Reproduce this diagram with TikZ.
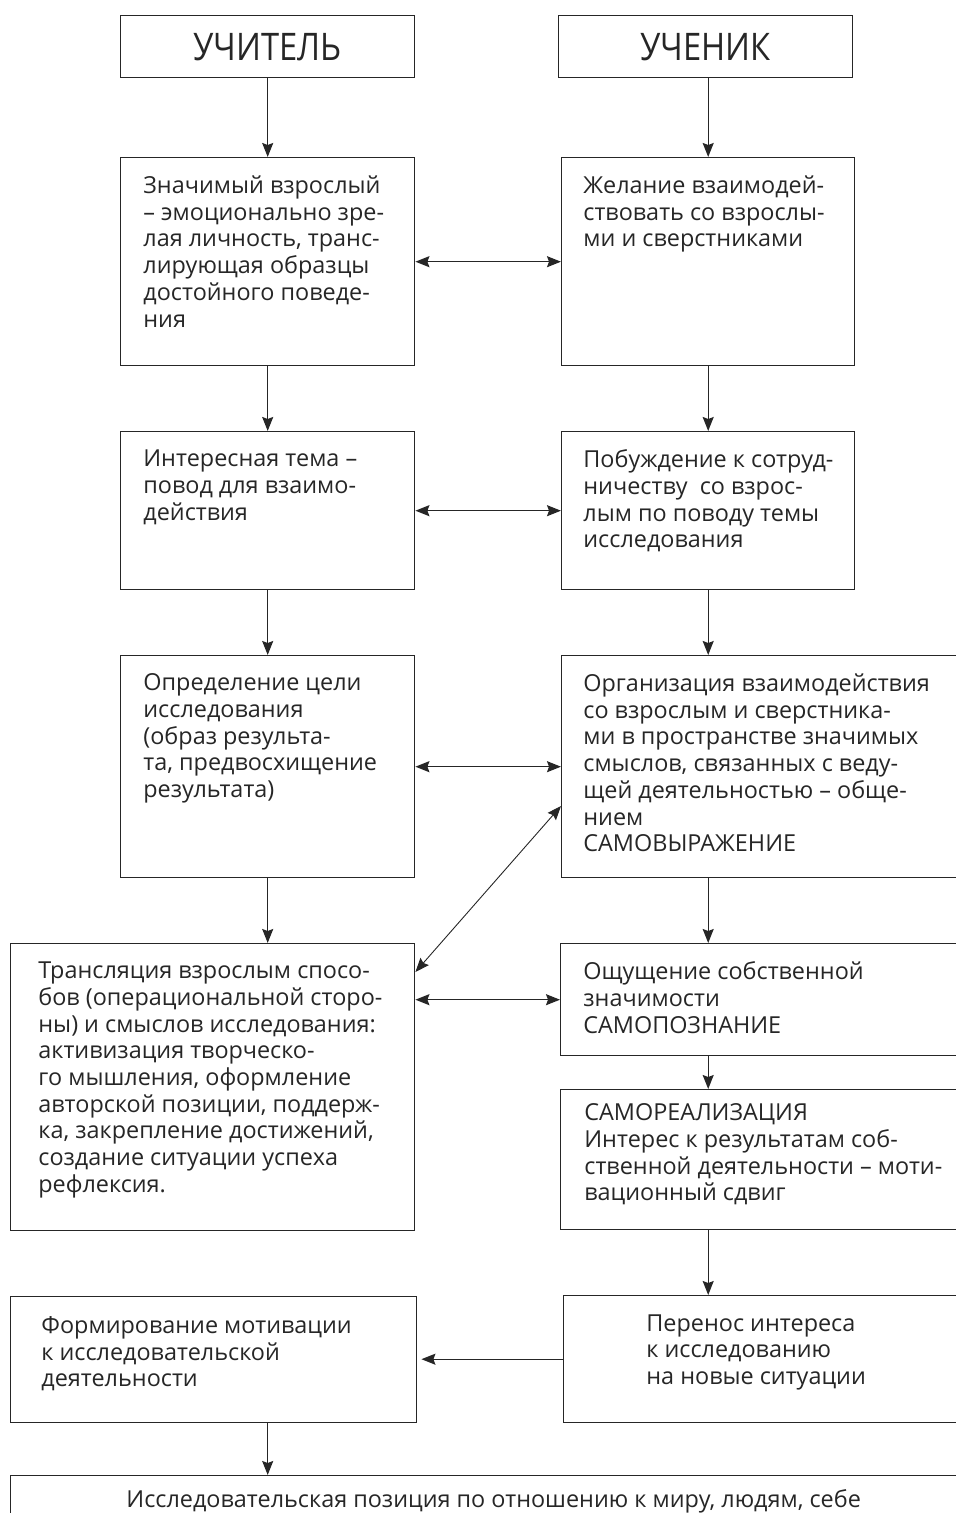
\documentclass[tikz,border=0pt]{standalone}
\usepackage{fontspec}
\setmainfont{Open Sans}
\newfontfamily\headfont[FakeStretch=0.86]{Open Sans}
\usetikzlibrary{arrows.meta, positioning, calc}

\begin{document}
\begin{tikzpicture}[x=0.5pt, y=-0.5pt,
		>={Stealth[length=7pt, width=5.5pt, inset=1pt]},
		box/.style={draw=black!85, line width=0.7pt, rectangle, inner sep=0pt, anchor=north west},
		head/.style={font=\headfont\fontsize{19}{22}\selectfont, text=black!85},
		txt/.style={anchor=north west, inner sep=0pt, align=left, text=black!85,
			font=\fontsize{11.7}{13.35}\selectfont, execute at begin node=\strut},
		arr/.style={draw=black!85, line width=0.7pt}]
		\useasboundingbox (0,0) rectangle (956,1513);
		\clip (0,0) rectangle (956,1513);
		
		% Headers
		\node[box, head, minimum width=147pt, minimum height=31pt] (teach) at (120,15) {УЧИТЕЛЬ};
		\node[box, head, minimum width=147pt, minimum height=31pt] (pupil) at (558,15) {УЧЕНИК};
		
		% Left column (teacher)
		\node[box, minimum width=147pt, minimum height=104pt] (t1) at (120,157) {};
		\node[box, minimum width=147pt, minimum height=79pt] (t2) at (120,431) {};
		\node[box, minimum width=147pt, minimum height=111pt] (t3) at (120,655) {};
		\node[box, minimum width=202pt, minimum height=143.5pt] (t4) at (10,943) {};
		\node[box, minimum width=203pt, minimum height=63pt] (t6) at (10,1296) {};
		
		% Right column (pupil)
		\node[box, minimum width=146.5pt, minimum height=104pt] (s1) at (561,157) {};
		\node[box, minimum width=146.5pt, minimum height=79pt] (s2) at (561,431) {};
		\node[box, minimum width=220pt, minimum height=111pt] (s3) at (561,655) {};
		\node[box, minimum width=220pt, minimum height=56pt] (s4) at (560,943) {};
		\node[box, minimum width=220pt, minimum height=70pt] (s5) at (560,1089) {};
		\node[box, minimum width=220pt, minimum height=63.5pt] (s6) at (563,1295) {};
		
		% Bottom
		\node[box, minimum width=483pt, minimum height=35pt] (bot) at (10,1475) {};
		
		% Texts
		\node[txt] (t1txt) at ([shift={(23,18.5)}]t1.north west)
		{Значимый взрослый\\– эмоционально зре-\\лая личность, транс-\\лирующая образцы\\достойного поведе-\\ния};
		\node[txt] (t2txt) at ([shift={(23,18.5)}]t2.north west)
		{Интересная тема –\\повод для взаимо-\\действия};
		\node[txt] (t3txt) at ([shift={(23,18.5)}]t3.north west)
		{Определение цели\\исследования\\(образ результа-\\та, предвосхищение\\результата)};
		\node[txt] (t4txt) at ([shift={(28,18.5)}]t4.north west)
		{Трансляция взрослым спосо-\\бов (операциональной сторо-\\ны) и смыслов исследования:\\активизация творческо-\\го мышления, оформление\\авторской позиции, поддерж-\\ка, закрепление достижений,\\создание ситуации успеха\\рефлексия.};
		\node[txt] (t6txt) at ([shift={(31,20)}]t6.north west)
		{Формирование мотивации\\к исследовательской\\деятельности};
		
		\node[txt] (s1txt) at ([shift={(22,18.5)}]s1.north west)
		{Желание взаимодей-\\ствовать со взрослы-\\ми и сверстниками};
		\node[txt] (s2txt) at ([shift={(22,18.5)}]s2.north west)
		{Побуждение к сотруд-\\ничеству\ \ со взрос-\\лым по поводу темы\\исследования};
		\node[txt] (s3txt) at ([shift={(22,18.5)}]s3.north west)
		{Организация взаимодействия\\со взрослым и сверстника-\\ми в пространстве значимых\\смыслов, связанных с веду-\\щей деятельностью – обще-\\нием\\САМОВЫРАЖЕНИЕ};
		\node[txt] (s4txt) at ([shift={(23,18.5)}]s4.north west)
		{Ощущение собственной\\значимости\\САМОПОЗНАНИЕ};
		\node[txt] (s5txt) at ([shift={(24,14.5)}]s5.north west)
		{САМОРЕАЛИЗАЦИЯ\\Интерес к результатам соб-\\ственной деятельности – моти-\\вационный сдвиг};
		\node[txt] (s6txt) at ([shift={(83,19)}]s6.north west)
		{Перенос интереса\\к исследованию\\на новые ситуации};
		
		\node[txt, anchor=north] (bottxt) at ([shift={(0,13.5)}]bot.north)
		{Исследовательская позиция по отношению к миру, людям, себе};
		
		% Vertical arrows
		\draw[arr, ->] (teach.south) -- (t1.north);
		\draw[arr, ->] (s1.north |- pupil.south) -- (s1.north);
		\draw[arr, ->] (t1.south) -- (t2.north);
		\draw[arr, ->] (s1.south) -- (s2.north);
		\draw[arr, ->] (t2.south) -- (t3.north);
		\draw[arr, ->] (s2.south) -- (s2.south |- s3.north);
		\draw[arr, ->] (t3.south) -- (t3.south |- t4.north);
		\draw[arr, ->] (s2.south |- s3.south) -- (s2.south |- s4.north);
		\draw[arr, ->] (s2.south |- s4.south) -- (s2.south |- s5.north);
		\draw[arr, ->] (s2.south |- s5.south) -- (s2.south |- s6.north);
		\draw[arr, ->] (t3.south |- t6.south) -- (t3.south |- bot.north);
		
		% Horizontal arrows
		\draw[arr, <->] (t1.east) -- (s1.west);
		\draw[arr, <->] (t2.east) -- (s2.west);
		\draw[arr, <->] (t3.east) -- (t3.east -| s3.west);
		\draw[arr, <->] (s4.west -| t4.east) -- (s4.west);
		\draw[arr, ->, shorten >=2pt] (s6.west) -- (s6.west -| t6.east);
		
		% Diagonal link
		\draw[arr, <->, line width=0.45pt] ([shift={(0,29)}]t4.north east) -- ([shift={(0,151)}]s3.north west);
	\end{tikzpicture}
\end{document}
